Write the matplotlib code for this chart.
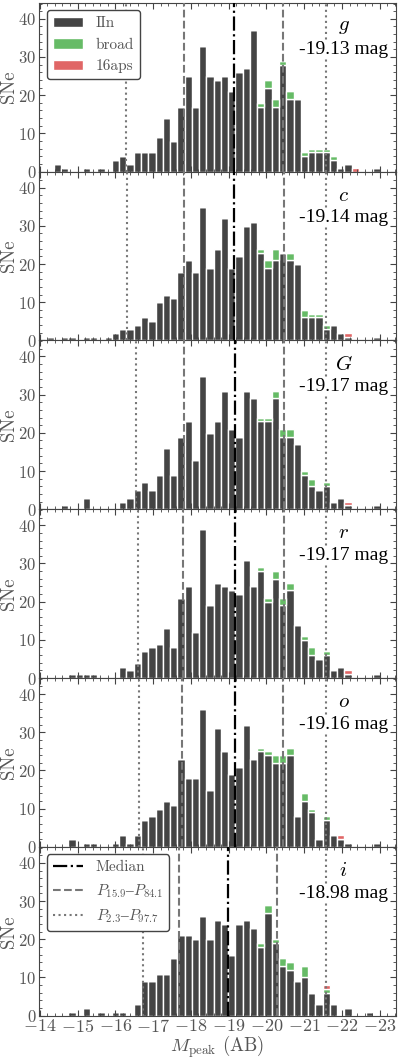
import numpy as np
import matplotlib
matplotlib.use("Agg")
import matplotlib.pyplot as plt
from matplotlib.ticker import MultipleLocator, AutoMinorLocator
from matplotlib.patches import Patch
from matplotlib.lines import Line2D

plt.rcParams['font.family'] = ['cmr10', 'DejaVu Serif']
plt.rcParams['mathtext.fontset'] = 'cm'
plt.rcParams['axes.formatter.use_mathtext'] = True

# histogram bins (shared grid, 46 bins going from bright-end -14.18 downwards)
bin_start = -14.18
bin_width = 0.1923
n_bins = 46

bands = ['g', 'c', 'G', 'r', 'o', 'i']
band_median = [-19.13, -19.14, -19.17, -19.17, -19.16, -18.98]
p15_9 = [-17.82, -17.82, -17.82, -17.79, -17.76, -17.69]
p84_1 = [-20.45, -20.46, -20.47, -20.46, -20.44, -20.27]
p2_3 = [-16.27, -16.31, -16.55, -16.59, -16.62, -16.72]
p97_7 = [-21.57, -21.57, -21.57, -21.58, -21.58, -21.58]

g_iin = [0, 2, 1, 0, 0, 1, 0, 1, 0, 3,
         4, 2, 5, 5, 5, 9, 14, 8, 17, 25,
         17, 33, 25, 24, 25, 21, 26, 27, 37, 17,
         22, 17, 28, 19, 19, 4, 5, 5, 5, 3,
         1, 2, 0, 0, 0, 1]
g_broad = [0, 0, 0, 0, 0, 0, 0, 0, 0, 0,
           0, 0, 0, 0, 0, 0, 0, 0, 0, 0,
           0, 0, 0, 0, 0, 0, 0, 0, 0, 1,
           2, 2, 1, 2, 0, 1, 1, 1, 1, 1,
           0, 0, 0, 0, 0, 0]
g_16aps = [0] * 42 + [1, 0, 0, 0]

c_iin = [1, 0, 1, 1, 0, 1, 1, 0, 1, 2,
         3, 3, 4, 6, 5, 10, 12, 11, 18, 21,
         18, 35, 19, 24, 32, 19, 22, 30, 31, 23,
         19, 21, 23, 21, 20, 6, 6, 6, 3, 4,
         2, 1, 0, 0, 0, 1]
c_broad = [0, 0, 0, 0, 0, 0, 0, 0, 0, 0,
           0, 0, 0, 0, 0, 0, 0, 0, 0, 0,
           0, 0, 0, 0, 0, 0, 0, 0, 0, 1,
           2, 3, 0, 2, 0, 2, 1, 1, 1, 0,
           0, 0, 0, 0, 0, 0]
c_16aps = [0] * 41 + [1, 0, 0, 0, 0]

G_iin = [0, 0, 1, 0, 0, 3, 0, 0, 0, 0,
         2, 3, 5, 7, 5, 9, 16, 9, 19, 23,
         13, 35, 20, 23, 31, 21, 19, 31, 29, 23,
         23, 29, 19, 19, 17, 9, 6, 5, 6, 2,
         3, 1, 0, 0, 0, 1]
G_broad = [0, 0, 0, 0, 0, 0, 0, 0, 0, 0,
           0, 0, 0, 0, 0, 0, 0, 0, 0, 0,
           0, 0, 0, 0, 0, 0, 0, 0, 0, 1,
           1, 2, 2, 2, 0, 1, 2, 0, 1, 0,
           0, 0, 0, 0, 0, 0]
G_16aps = [0] * 41 + [1, 0, 0, 0, 0]

r_iin = [0, 0, 0, 1, 1, 1, 1, 0, 0, 0,
         3, 2, 4, 7, 8, 9, 13, 8, 21, 24,
         12, 39, 19, 25, 24, 23, 22, 31, 24, 28,
         20, 26, 19, 23, 14, 10, 6, 5, 6, 2,
         3, 1, 0, 0, 0, 1]
r_broad = [0, 0, 0, 0, 0, 0, 0, 0, 0, 0,
           0, 0, 0, 0, 0, 0, 0, 0, 0, 0,
           0, 0, 0, 0, 0, 0, 0, 0, 0, 1,
           1, 2, 2, 2, 0, 1, 2, 0, 1, 0,
           0, 0, 0, 0, 0, 0]
r_16aps = [0] * 41 + [1, 0, 0, 0, 0]

o_iin = [0, 0, 0, 2, 0, 1, 1, 0, 0, 1,
         3, 1, 3, 7, 8, 10, 12, 11, 23, 18,
         18, 36, 15, 31, 25, 19, 21, 32, 23, 25,
         24, 22, 22, 24, 8, 12, 9, 2, 7, 3,
         2, 1, 0, 0, 0, 1]
o_broad = [0, 0, 0, 0, 0, 0, 0, 0, 0, 0,
           0, 0, 0, 0, 0, 0, 0, 0, 0, 0,
           0, 0, 0, 0, 0, 0, 0, 0, 0, 1,
           1, 2, 2, 2, 0, 2, 1, 0, 1, 0,
           0, 0, 0, 0, 0, 0]
o_16aps = [0] * 40 + [1, 0, 0, 0, 0, 0]

i_iin = [0, 0, 0, 1, 0, 2, 0, 1, 0, 1,
         1, 0, 3, 9, 9, 11, 11, 15, 21, 21,
         20, 26, 20, 25, 24, 16, 24, 25, 23, 18,
         27, 19, 13, 12, 9, 10, 6, 3, 6, 3,
         0, 2, 0, 0, 1, 0]
i_broad = [0, 0, 0, 0, 0, 0, 0, 0, 0, 0,
           0, 0, 0, 0, 0, 0, 0, 0, 0, 0,
           0, 0, 0, 0, 0, 0, 0, 0, 0, 1,
           2, 1, 2, 2, 0, 3, 0, 0, 1, 0,
           0, 0, 0, 0, 0, 0]
i_16aps = [0] * 38 + [1, 0, 0, 0, 0, 0, 0, 0]

counts_iin = [g_iin, c_iin, G_iin, r_iin, o_iin, i_iin]
counts_broad = [g_broad, c_broad, G_broad, r_broad, o_broad, i_broad]
counts_16aps = [g_16aps, c_16aps, G_16aps, r_16aps, o_16aps, i_16aps]

col_iin = '#444444'
col_broad = '#66bb66'
col_16aps = '#e06666'
txt_col = '#555555'
line_col = '#777777'

centers = bin_start - bin_width * (np.arange(n_bins) + 0.5)

fig, axes = plt.subplots(6, 1, figsize=(4, 10.58), dpi=100, sharex=True)
fig.subplots_adjust(left=0.0975, right=0.989, bottom=0.04, top=0.9974, hspace=0)

for n, ax in enumerate(axes):
    iin = np.array(counts_iin[n])
    broad = np.array(counts_broad[n])
    aps = np.array(counts_16aps[n])
    ax.bar(centers, iin, width=bin_width, color=col_iin, edgecolor='white', linewidth=1.0, zorder=1)
    ax.bar(centers, broad, bottom=iin, width=bin_width, color=col_broad, edgecolor='white', linewidth=1.0, zorder=1)
    ax.bar(centers, aps, bottom=iin + broad, width=bin_width, color=col_16aps, edgecolor='white', linewidth=1.0, zorder=1)

    ax.axvline(band_median[n], color='black', ls='-.', lw=1.6, zorder=3)
    ax.axvline(p15_9[n], color=line_col, ls='--', lw=1.5, zorder=3)
    ax.axvline(p84_1[n], color=line_col, ls='--', lw=1.5, zorder=3)
    ax.axvline(p2_3[n], color=line_col, ls=':', lw=1.5, zorder=3)
    ax.axvline(p97_7[n], color=line_col, ls=':', lw=1.5, zorder=3)

    # band name and median, white box hides the lines behind it
    ax.text(0.854, 0.856, '$%s$' % bands[n], transform=ax.transAxes,
            ha='center', va='center', fontsize=15, zorder=5,
            bbox=dict(facecolor='white', edgecolor='none', pad=0))
    ax.text(0.854, 0.726, '%.2f mag' % band_median[n], transform=ax.transAxes,
            ha='center', va='center', fontsize=14, family='Liberation Serif', zorder=5,
            bbox=dict(facecolor='white', edgecolor='none', pad=0))

    ax.set_ylim(0, 44.2)
    ax.set_xlim(-13.98, -23.42)
    ax.yaxis.set_major_locator(MultipleLocator(10))
    ax.yaxis.set_minor_locator(AutoMinorLocator(5))
    ax.xaxis.set_major_locator(MultipleLocator(1))
    ax.xaxis.set_minor_locator(AutoMinorLocator(5))
    ax.tick_params(which='both', direction='in', top=True, right=True,
                   colors='#444444', labelcolor=txt_col, labelsize=13)
    ax.tick_params(axis='y', labelsize=12)
    ax.tick_params(which='major', length=4, pad=2)
    ax.tick_params(which='minor', length=2)
    for sp in ax.spines.values():
        sp.set_color('#444444')
    ax.set_ylabel('SNe', fontsize=13.5, color=txt_col, labelpad=0)

axes[-1].set_xlabel(r'$M_{\rm peak}$ (AB)', fontsize=13.5, color=txt_col)
axes[-1].xaxis.set_label_coords(0.5, -0.107)

h1 = [Patch(facecolor=col_iin, edgecolor='white'),
      Patch(facecolor=col_broad, edgecolor='white'),
      Patch(facecolor=col_16aps, edgecolor='white')]
leg1 = axes[0].legend(h1, ['IIn', 'broad', '16aps'], loc='upper left', fontsize=11,
                      labelcolor=txt_col, framealpha=1, edgecolor='#444444')
leg1.set_zorder(6)

h2 = [Line2D([], [], color='black', ls='-.', lw=1.6),
      Line2D([], [], color=line_col, ls='--', lw=1.5),
      Line2D([], [], color=line_col, ls=':', lw=1.5)]
leg2 = axes[-1].legend(h2, ['Median', '$P_{15.9}$\u2013$P_{84.1}$', '$P_{2.3}$\u2013$P_{97.7}$'],
                       loc='upper left', fontsize=11, labelcolor=txt_col,
                       framealpha=1, edgecolor='#444444')
leg2.set_zorder(6)
# cmr10 has no en dash, take it from a serif font that has one
for t in leg2.get_texts()[1:]:
    t.set_family('Liberation Serif')

fig.savefig('out.png', dpi=100)
